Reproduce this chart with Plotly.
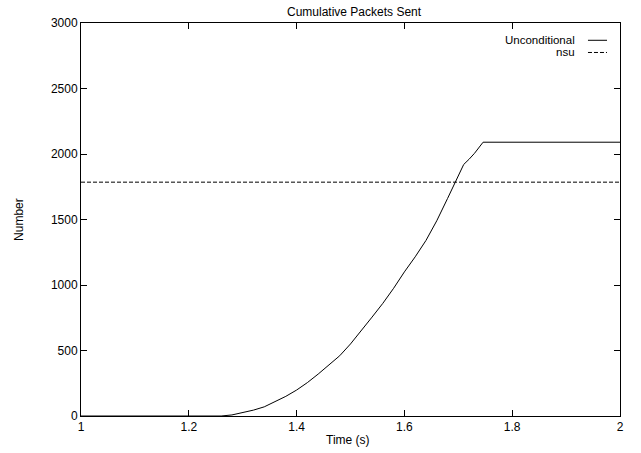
import plotly.graph_objects as go

# Data
time_s = [1.0, 1.26, 1.28, 1.30, 1.32, 1.34, 1.36, 1.38, 1.40, 1.42, 1.44, 1.46,
          1.48, 1.50, 1.52, 1.54, 1.56, 1.58, 1.60, 1.62, 1.64, 1.66, 1.68, 1.70,
          1.71, 1.72, 1.73, 1.746, 2.0]
unconditional = [0, 0, 8, 25, 45, 70, 108, 150, 198, 255, 320, 390,
                 460, 550, 650, 755, 860, 975, 1100, 1215, 1340, 1490, 1660, 1840,
                 1920, 1960, 2005, 2090, 2090]
nsu_x = [1.0, 2.0]
nsu_y = [1785, 1785]
x_ticks = [1, 1.2, 1.4, 1.6, 1.8, 2]
y_ticks = [0, 500, 1000, 1500, 2000, 2500, 3000]
series_names = ["Unconditional", "nsu"]

FONT = "Liberation Sans, Arial, Helvetica, sans-serif"

fig = go.Figure()
fig.add_trace(go.Scatter(x=time_s, y=unconditional, mode="lines", name=series_names[0],
                         line=dict(color="black", width=1), showlegend=False))
fig.add_trace(go.Scatter(x=nsu_x, y=nsu_y, mode="lines", name=series_names[1],
                         line=dict(color="black", width=1, dash="4px,2px"), showlegend=False))

# gnuplot-style legend: right-aligned text with line sample to the right
legend_rows = [(0.956, "solid"), (0.925, "4px,2px")]
for (yp, dash), name in zip(legend_rows, series_names):
    fig.add_annotation(x=0.920, y=yp, xref="paper", yref="paper", text=name,
                       showarrow=False, xanchor="right", yanchor="middle",
                       font=dict(family=FONT, size=11.5, color="black"))
    fig.add_shape(type="line", xref="paper", yref="paper", x0=0.9406, x1=0.9759,
                  y0=yp, y1=yp, line=dict(color="black", width=1, dash=dash))

# titles placed as annotations (gnuplot layout)
fig.add_annotation(x=0.508, y=1.028, xref="paper", yref="paper",
                   text="Cumulative Packets Sent", showarrow=False,
                   xanchor="center", yanchor="middle", font=dict(size=12))
fig.add_annotation(x=0.496, y=-0.061, xref="paper", yref="paper",
                   text="Time (s)", showarrow=False,
                   xanchor="center", yanchor="middle", font=dict(size=12))
fig.add_annotation(x=-0.115, y=0.499, xref="paper", yref="paper",
                   text="Number", showarrow=False, textangle=-90,
                   xanchor="center", yanchor="middle", font=dict(size=12))

fig.update_layout(
    width=641, height=453,
    margin=dict(l=81, r=21, t=23, b=37),
    paper_bgcolor="white", plot_bgcolor="white",
    font=dict(family=FONT, size=12, color="black"),
    showlegend=False,
)
fig.update_xaxes(range=[1, 2], tickvals=x_ticks, ticktext=[str(v) for v in x_ticks],
                 ticks="inside", ticklen=6, tickcolor="black", tickwidth=1,
                 showline=True, linecolor="black", linewidth=1, mirror="ticks",
                 showgrid=False, zeroline=False, automargin=False)
fig.update_yaxes(range=[0, 3000], tickvals=y_ticks,
                 ticks="inside", ticklen=6, tickcolor="black", tickwidth=1,
                 showline=True, linecolor="black", linewidth=1, mirror="ticks",
                 showgrid=False, zeroline=False, automargin=False)

# remove the default 8px page margin so the figure fills the window exactly
fig.write_html("out.html",
               config={"displayModeBar": False, "staticPlot": True},
               post_script="document.body.style.margin='0';document.body.style.overflow='hidden';")
